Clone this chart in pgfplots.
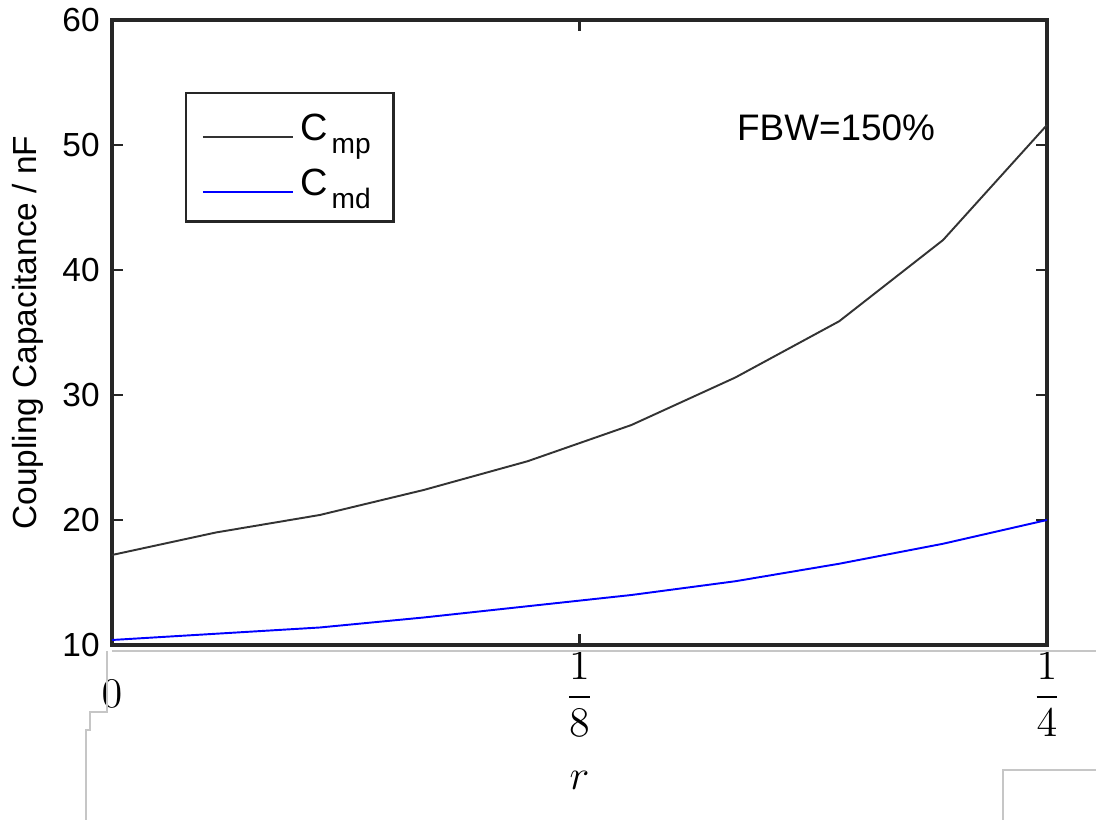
\documentclass[border=0pt]{standalone}
\usepackage{amsmath}
\usepackage{pgfplots}
\pgfplotsset{compat=1.18}
\usepackage{fontspec}
\setmainfont{Liberation Sans}
\newcommand{\sub}[1]{\raisebox{-0.65ex}{\fontsize{8}{9}\selectfont\kern1pt#1}}
\begin{document}
\begin{tikzpicture}
\useasboundingbox (-1.12,-1.75) rectangle (9.84,6.45);
\begin{axis}[
  scale only axis,
  width=9.35cm, height=6.25cm,
  xmin=0, xmax=0.25, ymin=10, ymax=60,
  xtick={0,0.125,0.25},
  xticklabels={$\vphantom{\dfrac{1}{8}}0$,$\dfrac{1}{8}$,$\dfrac{1}{4}$},
  x tick label style={font=\large, yshift=1.5pt},
  ytick={10,20,30,40,50,60},
  y tick label style={font=\fontsize{9.5}{11}\selectfont},
  /pgf/number format/assume math mode=true,
  tick align=inside,
  major tick length=0.11cm,
  axis line style={draw=black!85, line width=0.9pt},
  every tick/.style={black!85, line width=0.7pt},
  xlabel={$r$},
  xlabel style={font=\large, yshift=-3pt},
  ylabel={Coupling Capacitance / nF},
  ylabel style={font=\fontsize{9.5}{11}\selectfont, yshift=-1.5pt},
  legend style={at={(0.078,0.885)}, anchor=north west, draw=black!85, line width=0.7pt,
    font=\fontsize{10.8}{13}\selectfont, inner xsep=4.5pt, inner ysep=4pt,
    row sep=2.5pt, cells={anchor=west}},
  legend image code/.code={\draw[#1, line width=0.5pt] (0cm,-2pt) -- (0.9cm,-2pt);},
  clip=false,
]
\addplot[black!80, line width=0.55pt] coordinates {
  (0,17.2) (0.02778,19.0) (0.05556,20.4) (0.08333,22.4) (0.11111,24.7)
  (0.13889,27.6) (0.16667,31.4) (0.19444,35.9) (0.22222,42.4) (0.25,51.6)};
\addlegendentry{C\sub{mp}}
\addplot[blue, line width=0.55pt] coordinates {
  (0,10.4) (0.02778,10.9) (0.05556,11.4) (0.08333,12.2) (0.11111,13.1)
  (0.13889,14.0) (0.16667,15.1) (0.19444,16.5) (0.22222,18.1) (0.25,20.0)};
\addlegendentry{C\sub{md}}
\node[font=\fontsize{10.5}{12}\selectfont, anchor=center] at (axis cs:0.1936,51.4) {FBW=150\%};
\end{axis}
\draw[gray!45, line width=0.6pt] (0,-0.06) -- (9.84,-0.06);
\draw[gray!45, line width=0.6pt] (-0.05,-0.06) -- (-0.05,-0.67) -- (-0.22,-0.67) -- (-0.22,-0.85) -- (-0.26,-0.85) -- (-0.26,-1.75);
\draw[gray!45, line width=0.6pt] (9.84,-1.25) -- (8.91,-1.25) -- (8.91,-1.75);
\end{tikzpicture}
\end{document}
